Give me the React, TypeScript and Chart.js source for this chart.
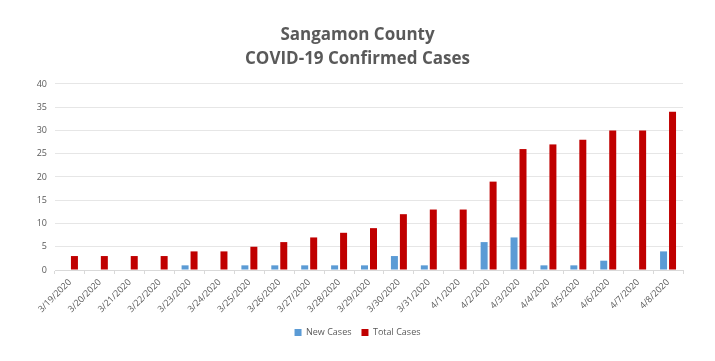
import React, { useEffect, useRef } from "react";
import { Chart, registerables } from "chart.js";

Chart.register(...registerables);

const categories = [
  "3/19/2020", "3/20/2020", "3/21/2020", "3/22/2020", "3/23/2020", "3/24/2020", "3/25/2020",
  "3/26/2020", "3/27/2020", "3/28/2020", "3/29/2020", "3/30/2020", "3/31/2020", "4/1/2020",
  "4/2/2020", "4/3/2020", "4/4/2020", "4/5/2020", "4/6/2020", "4/7/2020", "4/8/2020",
];
const newCases = [0, 0, 0, 0, 1, 0, 1, 1, 1, 1, 1, 3, 1, 0, 6, 7, 1, 1, 2, 0, 4];
const totalCases = [3, 3, 3, 3, 4, 4, 5, 6, 7, 8, 9, 12, 13, 13, 19, 26, 27, 28, 30, 30, 34];
const titleLines = ["Sangamon County", "COVID-19 Confirmed Cases"];
const seriesNames = ["New Cases", "Total Cases"];

export default function App() {
  const ref = useRef<HTMLCanvasElement | null>(null);
  useEffect(() => {
    document.body.style.margin = "0";
    const canvas = ref.current;
    if (!canvas) return;
    const font = "'Open Sans', 'Liberation Sans', sans-serif";
    const chart = new Chart(canvas, {
      type: "bar",
      data: {
        labels: categories,
        datasets: [
          {
            label: seriesNames[0],
            data: newCases,
            backgroundColor: "#5B9BD5",
            categoryPercentage: 0.6,
            barPercentage: 0.78,
          },
          {
            label: seriesNames[1],
            data: totalCases,
            backgroundColor: "#C00000",
            categoryPercentage: 0.6,
            barPercentage: 0.78,
          },
        ],
      },
      options: {
        responsive: false,
        animation: false,
        layout: { padding: { left: 32, right: 32, top: 0, bottom: 14 } },
        plugins: {
          title: {
            display: true,
            text: titleLines,
            color: "#595959",
            font: { family: font, size: 17, weight: "bold", lineHeight: 1.41 },
            padding: { top: 23, bottom: 13 },
          },
          legend: {
            position: "bottom",
            labels: {
              color: "#595959",
              font: { family: font, size: 9 },
              boxWidth: 7,
              boxHeight: 7,
              padding: 10,
            },
          },
          tooltip: { enabled: false },
        },
        scales: {
          x: {
            grid: {
              display: true,
              drawOnChartArea: false,
              drawTicks: true,
              tickLength: 4,
              color: "#D9D9D9",
            },
            border: { display: true, color: "#D9D9D9" },
            ticks: {
              color: "#595959",
              font: { family: font, size: 9 },
              minRotation: 45,
              maxRotation: 45,
              autoSkip: false,
            },
            afterFit: (scale: any) => {
              scale.height = 48;
            },
          },
          y: {
            min: 0,
            max: 40,
            ticks: {
              stepSize: 5,
              color: "#595959",
              font: { family: font, size: 9 },
              padding: 8,
            },
            grid: { color: "#E6E6E6", drawTicks: false },
            border: { display: false },
            afterFit: (scale: any) => {
              scale.width = 23;
            },
          },
        },
      },
    });
    return () => chart.destroy();
  }, []);
  return <canvas ref={ref} width={715} height={361} style={{ display: "block" }} />;
}
